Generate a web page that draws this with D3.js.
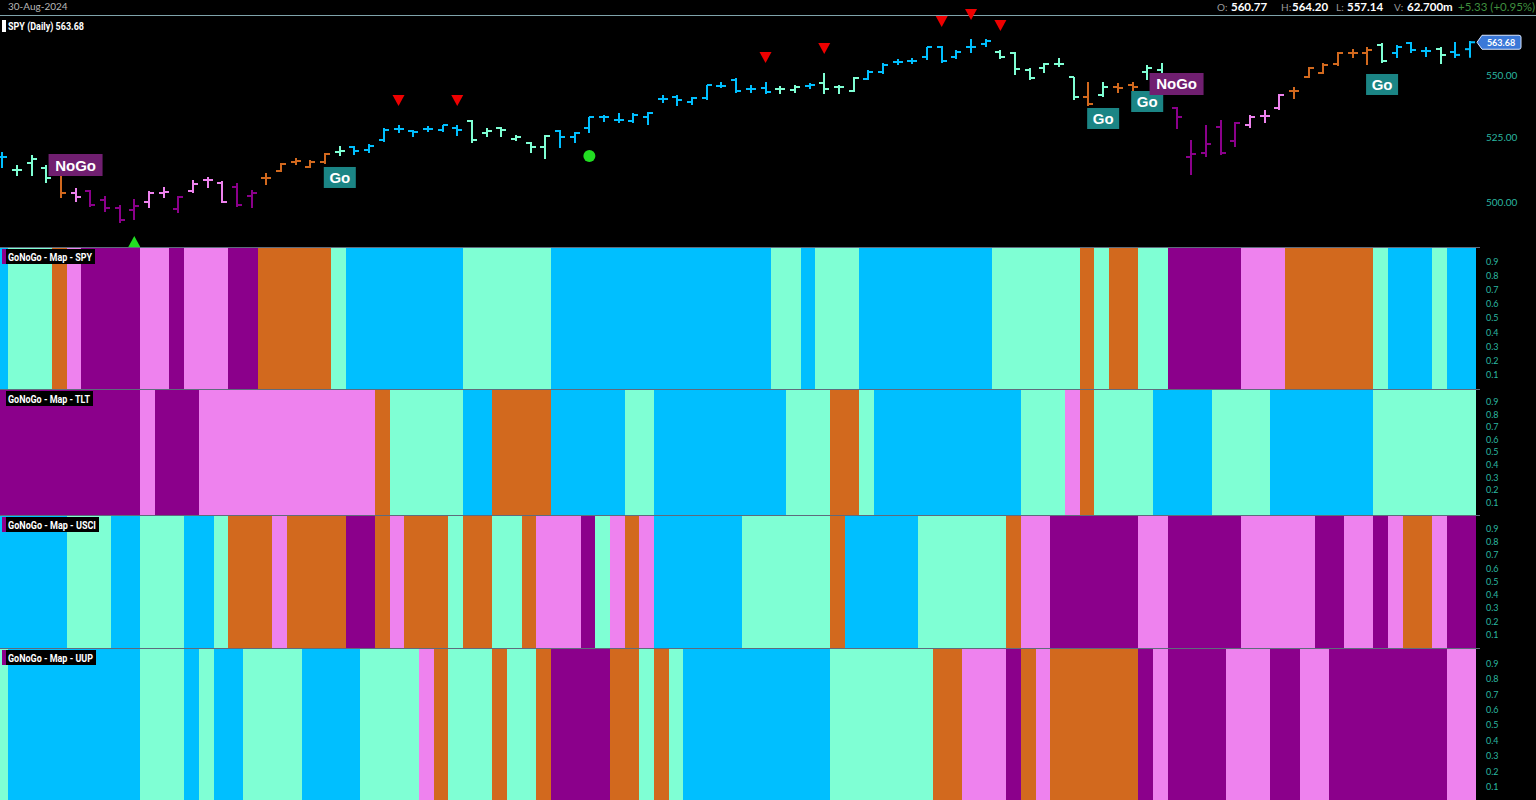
<!DOCTYPE html>
<html><head><meta charset="utf-8">
<script src="https://cdn.jsdelivr.net/npm/d3@7/dist/d3.min.js"></script>
<style>body{margin:0;background:#000;overflow:hidden}svg{display:block}</style>
</head><body><svg id="c" width="1536" height="800"></svg>
<script>
// ---------- DATA ----------
const opens = [517.18,512.15,514.85,512.92,513.31,503.39,504.14,500.75,497.76,497.01,
500.00,503.39,497.38,504.14,508.32,507.18,505.66,502.26,509.09,511.77,
515.24,513.31,515.24,519.12,521.07,519.90,523.81,528.16,527.37,528.16,
527.76,528.56,531.34,526.58,528.56,524.21,522.64,521.07,527.37,525.00,
528.56,532.94,531.74,531.34,532.94,540.19,541.00,538.97,540.59,545.48,
547.94,544.25,544.66,544.25,543.84,545.48,546.71,545.07,543.43,548.35,
551.24,555.40,555.81,557.49,561.69,557.49,561.69,562.95,559.58,559.16,
552.07,552.90,554.57,549.18,541.00,541.81,545.07,545.89,551.24,552.07,
536.55,517.18,518.73,528.95,523.42,529.75,533.34,536.55,543.43,549.18,
550.83,554.57,559.16,559.16,562.53,559.16,563.37,560.00,560.84,559.58,560.77];
const highs = [519.12,514.08,517.96,514.08,514.08,505.28,504.52,502.26,498.88,501.13,
504.14,505.66,502.26,508.32,509.47,507.94,507.18,504.52,511.00,514.85,
516.79,516.01,518.73,521.46,521.46,522.25,528.56,529.75,527.76,529.35,
529.75,529.75,531.74,528.56,528.95,525.79,523.03,525.79,527.76,526.97,
532.94,533.74,534.54,534.54,534.94,541.81,541.81,541.00,545.89,547.12,
548.77,545.89,547.12,545.48,545.89,546.71,550.83,545.89,549.18,552.07,
554.98,556.65,557.07,561.69,562.11,560.42,565.07,565.07,560.42,559.58,
552.90,554.98,557.07,549.18,547.12,547.12,546.71,547.12,554.15,554.98,
536.95,523.81,529.75,531.74,530.94,533.74,535.74,542.22,545.07,553.32,
554.98,559.58,560.84,561.69,563.37,562.53,563.80,561.69,561.69,563.80,564.20];
const lows = [512.92,509.85,509.85,507.18,501.50,500.00,498.13,496.27,492.18,493.29,
497.76,501.50,495.89,503.39,505.28,499.63,498.13,497.76,506.42,511.38,
514.08,512.92,514.47,517.57,517.96,518.73,523.03,526.58,525.00,526.97,
526.97,525.39,522.64,525.00,525.00,523.42,518.73,516.40,520.68,522.64,
526.58,530.94,530.55,530.55,529.75,538.57,537.36,537.76,539.78,544.66,
542.62,542.62,542.22,542.22,542.62,544.25,542.22,542.22,543.03,547.94,
550.41,554.15,554.57,556.23,554.98,556.65,559.16,561.69,556.65,550.00,
547.94,550.83,553.32,539.78,537.36,541.00,542.62,541.00,547.94,538.97,
528.16,510.24,517.18,517.96,521.07,528.56,530.55,535.74,540.19,548.77,
550.41,553.74,557.07,554.15,554.98,557.07,559.16,557.49,554.57,557.07,557.14];
const closes = [517.18,512.15,516.40,509.09,503.39,501.88,498.88,497.76,493.29,498.51,
503.39,503.77,501.88,506.80,508.32,500.00,498.88,503.39,509.09,514.47,
515.62,515.24,518.34,519.51,519.51,521.46,527.76,528.16,526.97,528.16,
529.75,527.76,523.81,527.37,527.76,525.00,521.07,525.39,525.00,526.58,
532.94,532.94,531.74,533.74,534.54,540.19,539.78,540.59,545.89,545.48,
543.43,544.25,543.03,544.25,545.07,545.89,544.25,545.07,548.77,551.24,
554.15,555.40,555.81,561.69,555.81,559.58,561.69,564.22,557.49,552.49,
548.77,554.57,554.57,541.00,538.16,545.07,544.66,545.07,552.90,547.94,
532.94,518.34,522.25,518.73,530.55,532.94,533.34,541.81,543.43,552.90,
554.15,559.16,559.16,560.42,555.81,561.69,560.42,560.00,558.32,558.35,563.68];

// GoNoGo states per bar: G strong Go, g weak Go, A amber, n weak NoGo, N strong NoGo
const spyMap  = ["G","ggg","A","n","NNNN","nn","N","nnn","NN","AAAAA","g","GGGGGGGG","gggggg","GGGGGGGGGGGGGGG","gg","G","ggg","GGGGGGGGG","gggggg","A","g","AA","gg","NNNNN","nnn","AAAAAA","g","GGG","g","GG"].join("");
const tltMap  = ["NNNNNNNNNN","n","NNN","nnnnnnnnnnnn","A","ggggg","GG","AAAA","GGGGG","gg","GGGGGGGGG","ggg","AA","g","GGGGGGGGGG","ggg","n","A","gggg","GGGG","gggg","GGGGGGG","ggggggg"].join("");
const usciMap = ["GGGGG","ggg","GG","ggg","GG","g","AAA","n","AAAA","NN","A","n","AAA","g","AA","gg","A","nnn","N","g","n","A","n","GGGGGG","gggggg","A","GGGGG","gggggg","A","nn","NNNNNN","nn","NNNNN","nnnnn","NN","nn","N","n","AA","n","NN"].join("");
const uupMap  = ["g","GGGGGGGGG","ggg","G","g","GG","gggg","GGGG","gggg","n","A","ggg","A","gg","A","NNNN","AA","g","A","g","GGGGGGGGGG","ggggggg","AA","nnn","N","A","n","AAAAAA","N","n","NNNN","nnn","NN","nn","NNNNNNNN","nn"].join("");
const mapNames = ["SPY","TLT","USCI","UUP"];

const priceTicks = [500, 525, 550];
const mapTicks = [0.1,0.2,0.3,0.4,0.5,0.6,0.7,0.8,0.9];
const goLabels = [23, 75, 78, 94];
const noGoLabels = [5, 80];
const sellSignals = [27, 31, 52, 56, 64, 66, 68];
const buySignals = [9];
const dotSignals = [40];
const headerDate = "30-Aug-2024";
const headerKeys = ["O:","H:","L:","V:"];
const headerVals = ["560.77","564.20","557.14","62.700m"];
const headerChange = "+5.33 (+0.95%)";
const titleText = "SPY (Daily) 563.68";
const lastPrice = 563.68;

// ---------- STYLE ----------
const colors = {G:"#00bfff", g:"#7fffd4", A:"#d2691e", n:"#ee82ee", N:"#8b008b"};
const teal = "#2bb7a0";
const headerKeyX = [1217, 1281, 1336, 1394];
const headerValX = [1231, 1292, 1347, 1407];
const headerChangeX = 1458;
const labelTextW = [84, 82, 88, 85];

const svg = d3.select("#c");
svg.append("rect").attr("width",1536).attr("height",800).attr("fill","#000");

const n = closes.length;
const x = d3.scaleBand().domain(d3.range(n)).range([-6.68, 1476]).paddingInner(0);
const bw = x.bandwidth();
const cx = i => x(i) + bw/2 + 1.5;

// price panel scale
const y = d3.scaleLog().domain([500, 550]).range([202, 75]);

// header
svg.append("text").attr("x",8).attr("y",10).attr("fill","#b8b8b8")
  .style("font","10px Lato").text(headerDate);
svg.append("line").attr("x1",0).attr("x2",1536).attr("y1",15.5).attr("y2",15.5)
  .attr("stroke","#7fa3aa").attr("stroke-width",1);
headerKeys.forEach((k,i)=>{
  svg.append("text").attr("x",headerKeyX[i]).attr("y",10.5).attr("fill","#9a9a9a")
    .style("font","10px Lato").text(k);
  svg.append("text").attr("x",headerValX[i]).attr("y",10.5).attr("fill","#fff")
    .style("font","bold 11.5px Lato").text(headerVals[i]);
});
svg.append("text").attr("x",headerChangeX).attr("y",10.5).attr("fill","#3f8f3f")
  .style("font","11.5px Lato").text(headerChange);

// title
svg.append("rect").attr("x",2).attr("y",20).attr("width",4).attr("height",12).attr("fill","#fff");
svg.append("text").attr("x",8).attr("y",30).attr("fill","#fff")
  .attr("textLength",76).attr("lengthAdjust","spacingAndGlyphs")
  .style("font","bold 10.5px Roboto").text(titleText);

// price axis
const pa = svg.append("g").attr("transform","translate(1484,0)")
  .call(d3.axisRight(y).tickValues(priceTicks).tickFormat(d3.format(".2f")).tickSize(0));
pa.select(".domain").remove();
pa.selectAll("text").attr("fill",teal).attr("x",2).style("font","10px Lato");

// OHLC bars
const bars = svg.append("g").attr("stroke-width",2);
d3.range(n).forEach(i=>{
  const c = colors[spyMap[i]];
  const xc = Math.round(cx(i));
  const g = bars.append("g").attr("stroke",c);
  g.append("line").attr("x1",xc).attr("x2",xc).attr("y1",y(highs[i])).attr("y2",y(lows[i]));
  g.append("line").attr("x1",xc-5).attr("x2",xc).attr("y1",y(opens[i])).attr("y2",y(opens[i]));
  g.append("line").attr("x1",xc).attr("x2",xc+5).attr("y1",y(closes[i])).attr("y2",y(closes[i]));
});

// signals
sellSignals.forEach(i=>{
  const xc = cx(i), yy = y(highs[i]) - 25;
  svg.append("path").attr("d",`M${xc-6},${yy-5}L${xc+6},${yy-5}L${xc},${yy+6}Z`).attr("fill","#ee0000");
});
buySignals.forEach(i=>{
  const xc = cx(i), yy = y(lows[i]) + 22;
  svg.append("path").attr("d",`M${xc-6},${yy+5}L${xc+6},${yy+5}L${xc},${yy-6}Z`).attr("fill","#22dd22");
});
dotSignals.forEach(i=>{
  svg.append("circle").attr("cx",cx(i)).attr("cy",y(lows[i])+23).attr("r",6).attr("fill","#22dd22");
});

// Go / NoGo labels
goLabels.forEach(i=>{
  const xc = cx(i), top = y(lows[i]) + 11;
  svg.append("rect").attr("x",xc-16).attr("y",top).attr("width",32).attr("height",21).attr("fill","#1b8585");
  svg.append("text").attr("x",xc).attr("y",top+16).attr("text-anchor","middle").attr("fill","#fff")
    .style("font","bold 15px 'Liberation Sans'").text("Go");
});
noGoLabels.forEach(i=>{
  const xc = cx(i), bot = y(highs[i]) - 12;
  svg.append("rect").attr("x",xc-27).attr("y",bot-22).attr("width",54).attr("height",22).attr("fill","#701f70");
  svg.append("text").attr("x",xc).attr("y",bot-5.5).attr("text-anchor","middle").attr("fill","#fff")
    .style("font","bold 15px 'Liberation Sans'").text("NoGo");
});

// last price tag
const ly = y(lastPrice);
svg.append("path").attr("d",`M1477,${ly}L1482,${ly-7}L1519,${ly-7}Q1521,${ly-7} 1521,${ly-5}L1521,${ly+5}Q1521,${ly+7} 1519,${ly+7}L1482,${ly+7}Z`)
  .attr("fill","#3a78d8").attr("stroke","#d8e6ff").attr("stroke-width",1);
svg.append("text").attr("x",1501).attr("y",ly+3.5).attr("text-anchor","middle").attr("fill","#fff")
  .style("font","bold 9px Lato").text(lastPrice.toFixed(2));

// ---------- MAP STRIPS ----------
const panels = [[247,389],[389,515],[515,648],[648,802]];
const maps = [spyMap, tltMap, usciMap, uupMap];
maps.forEach((m,pi)=>{
  const [top,bot] = panels[pi];
  const ys = d3.scaleLinear().domain([0,1]).range([bot, top]);
  const g = svg.append("g").attr("shape-rendering","crispEdges");
  g.selectAll("rect").data(d3.range(n)).join("rect")
    .attr("x",i=>x(i)).attr("width",i=> i===n-1 ? bw : bw+1)
    .attr("y",ys(1)).attr("height",ys(0)-ys(1))
    .attr("fill",i=>colors[m[i]]);
  const ax = svg.append("g").attr("transform","translate(1484,0)")
    .call(d3.axisRight(ys).tickValues(mapTicks).tickFormat(d3.format(".1f")).tickSize(0));
  ax.select(".domain").remove();
  ax.selectAll("text").attr("fill",teal).attr("x",2).style("font","9px Lato");
  // label
  svg.append("rect").attr("x",2).attr("y",top+2).attr("width",5).attr("height",15).attr("fill","#8b008b");
  svg.append("rect").attr("x",6).attr("y",top+2).attr("width",labelTextW[pi]+5).attr("height",15).attr("fill","#000");
  svg.append("text").attr("x",8).attr("y",top+13.5).attr("fill","#fff")
    .attr("textLength",labelTextW[pi]).attr("lengthAdjust","spacingAndGlyphs")
    .style("font","bold 10.5px Roboto").text("GoNoGo - Map - " + mapNames[pi]);
});
panels.forEach(([top])=>{
  svg.append("line").attr("x1",0).attr("x2",1480).attr("y1",top+0.5).attr("y2",top+0.5)
    .attr("stroke","#5f6b7c").attr("stroke-width",1.2);
});
</script></body></html>
